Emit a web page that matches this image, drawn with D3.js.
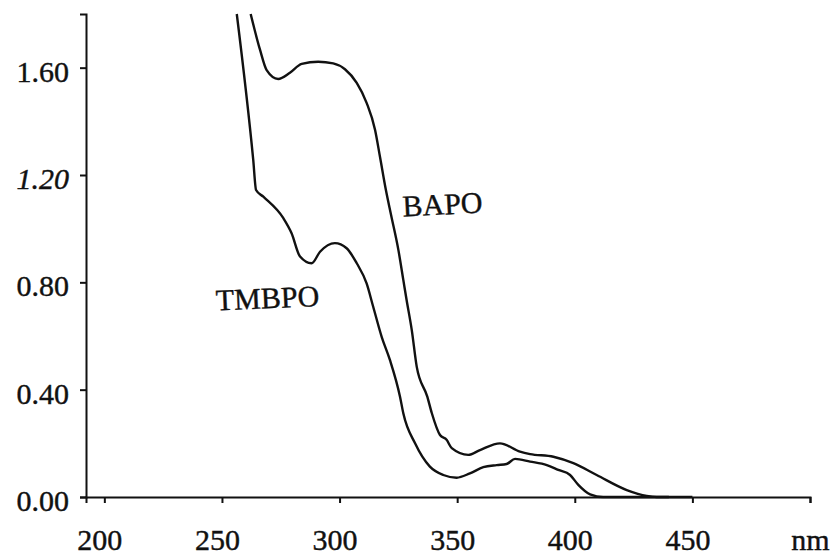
<!DOCTYPE html>
<html>
<head>
<meta charset="utf-8">
<script src="https://cdn.jsdelivr.net/npm/d3@7"></script>
<style>
  body { margin: 0; background: #fff; }
  text { font-family: "Liberation Serif", "Times New Roman", serif; fill: #111; stroke: #111; stroke-width: 0.4px; }
</style>
</head>
<body>
<div id="chart"></div>
<script>
var bapoWavelength = [262.2, 266.2, 269.0, 273.9, 278.9, 283.9, 290.9, 297.3, 302.3, 307.3, 311.5, 315.1, 317.2, 319.7, 321.9, 325.0, 327.1, 328.5, 330.7, 332.8, 337.3, 339.2, 342.7, 345.5, 347.7, 354.7, 359.7, 368.2, 376.7, 381.0, 390.9, 399.4, 409.3, 422.1, 430.6, 434.8, 450];
var bapoAbs = [1.80, 1.666, 1.591, 1.558, 1.581, 1.614, 1.622, 1.616, 1.594, 1.543, 1.469, 1.368, 1.267, 1.144, 1.051, 0.921, 0.809, 0.734, 0.622, 0.486, 0.374, 0.313, 0.231, 0.213, 0.182, 0.157, 0.175, 0.200, 0.169, 0.160, 0.150, 0.126, 0.082, 0.026, 0.004, 0.0, 0.0];

var tmbpoWavelength = [256.3, 263.3, 264.5, 267.6, 276.1, 279.6, 283.2, 288.1, 291.7, 298.0, 303.0, 307.3, 311.5, 314.3, 317.9, 321.4, 325.7, 327.1, 332.1, 338.4, 344.1, 349.8, 355.4, 361.1, 366.8, 371.0, 374.6, 381.0, 388.1, 393.0, 398.0, 401.5, 406.5, 412.1, 440];
var tmbpoAbs = [1.80, 1.256, 1.144, 1.119, 1.039, 0.983, 0.896, 0.871, 0.914, 0.946, 0.927, 0.871, 0.796, 0.709, 0.597, 0.511, 0.374, 0.312, 0.200, 0.113, 0.082, 0.072, 0.088, 0.111, 0.119, 0.123, 0.142, 0.132, 0.119, 0.101, 0.082, 0.045, 0.010, 0.0, 0.0];

var xTicks = [200, 250, 300, 350, 400, 450, 500];
var yTicks = [0, 0.4, 0.8, 1.2, 1.6];

// Dimensiones
var width = 835;
var height = 557;

var svg = d3.select("#chart")
    .append("svg")
    .attr("width", width)
    .attr("height", height);

// Escalas
var xScale = d3.scaleLinear()
    .domain([192.2, 500])
    .range([86, 810]);

var yScale = d3.scaleLinear()
    .domain([0, 1.8])
    .range([497, 14]);

// Eje x
var xAxis = svg.append("g")
    .attr("transform", "translate(0," + yScale(0) + ")")
    .call(d3.axisBottom(xScale)
        .tickValues(xTicks)
        .tickSizeOuter(0)
        .tickSize(6)
        .tickFormat(function(d) { return d === 500 ? "nm" : d; }));

xAxis.select(".domain").attr("stroke", "#111").attr("stroke-width", 2);
xAxis.selectAll(".tick line").attr("stroke", "#111").attr("stroke-width", 2);
xAxis.selectAll(".tick text")
    .attr("y", 53)
    .attr("dy", 0)
    .attr("dx", function(d) { return d === 500 ? 0 : -5; })
    .style("font-size", "30px");

// Eje y
var yAxis = svg.append("g")
    .attr("transform", "translate(" + xScale(192.2) + ",0)")
    .call(d3.axisLeft(yScale)
        .tickValues(yTicks)
        .tickSizeOuter(0)
        .tickSize(6)
        .tickPadding(11)
        .tickFormat(d3.format(".2f")));

yAxis.select(".domain").attr("stroke", "#111").attr("stroke-width", 2);
yAxis.selectAll(".tick line").attr("stroke", "#111").attr("stroke-width", 2);
yAxis.selectAll(".tick text")
    .attr("dy", "0.45em")
    .style("font-size", "30px")
    .style("font-style", function(d) { return d === 1.2 ? "italic" : "normal"; });

// Lineas de los espectros
var line = d3.line()
    .x(function(d) { return xScale(d[0]); })
    .y(function(d) { return yScale(d[1]); })
    .curve(d3.curveMonotoneX);

var bapoData = d3.zip(bapoWavelength, bapoAbs);
var tmbpoData = d3.zip(tmbpoWavelength, tmbpoAbs);

svg.append("path")
    .datum(bapoData)
    .attr("fill", "none")
    .attr("stroke", "#111")
    .attr("stroke-width", 2.4)
    .attr("d", line);

svg.append("path")
    .datum(tmbpoData)
    .attr("fill", "none")
    .attr("stroke", "#111")
    .attr("stroke-width", 2.4)
    .attr("d", line);

// Etiquetas de las curvas
svg.append("text")
    .attr("transform", "translate(" + xScale(327) + "," + yScale(1.045) + ") rotate(-3)")
    .style("font-size", "30px")
    .text("BAPO");

svg.append("text")
    .attr("transform", "translate(" + xScale(247.6) + "," + yScale(0.695) + ") rotate(-2.5)")
    .style("font-size", "30px")
    .text("TMBPO");
</script>
</body>
</html>
